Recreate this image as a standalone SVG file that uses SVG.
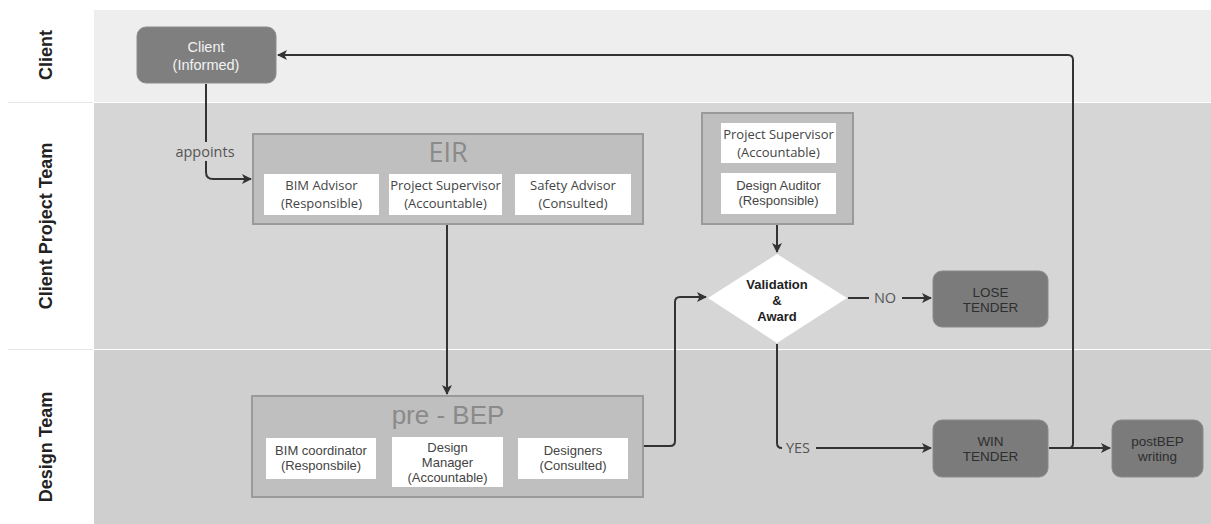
<svg xmlns="http://www.w3.org/2000/svg" width="1211" height="524" viewBox="0 0 1211 524">
<defs>
<marker id="ah" viewBox="0 0 10 10" refX="9" refY="5" markerWidth="10" markerHeight="10" markerUnits="userSpaceOnUse" orient="auto">
<path d="M0,0 L10,5 L0,10 L2.5,5 Z" fill="#333"/>
</marker>
<style>
.lanelbl{font-family:"Liberation Sans",Arial,sans-serif;font-weight:bold;font-size:18px;fill:#222;text-anchor:middle}
.cont{fill:#bfbfbf;stroke:#9a9a9a;stroke-width:2}
.card{fill:#fff}
.t{font-family:"Open Sans","Noto Sans",sans-serif;font-size:13px;fill:#444;text-anchor:middle}
.ta{font-family:"Liberation Sans",Arial,sans-serif;font-size:13px;fill:#444;text-anchor:middle}
.title{font-family:"Liberation Sans",Arial,sans-serif;font-size:26px;fill:#8a8a8a;text-anchor:middle}
.dark{fill:#7b7b7b;stroke:#8a8a8a;stroke-width:1}
.dt{font-family:"Liberation Sans",Arial,sans-serif;font-size:13.5px;fill:#2e2e2e;text-anchor:middle}
.conn{fill:none;stroke:#333;stroke-width:2}
.lbl{font-family:"Open Sans","Noto Sans",sans-serif;font-size:14.5px;fill:#555;text-anchor:middle}
</style>
</defs>
<rect width="1211" height="524" fill="#ffffff"/>
<g id="lanes">
<rect x="94" y="10" width="1117" height="92" fill="#eeeeee"/>
<rect x="94" y="103" width="1117" height="246" fill="#d6d6d6"/>
<rect x="94" y="350" width="1117" height="174" fill="#cfcfcf"/>
<line x1="8" y1="102.5" x2="93" y2="102.5" stroke="#e6e6e6" stroke-width="1"/>
<line x1="8" y1="349.5" x2="93" y2="349.5" stroke="#e6e6e6" stroke-width="1"/>
<text class="lanelbl" transform="translate(52,55) rotate(-90)">Client</text>
<text class="lanelbl" transform="translate(52,226) rotate(-90)">Client Project Team</text>
<text class="lanelbl" transform="translate(52,447) rotate(-90)">Design Team</text>
</g>
<g id="connectors">
<path class="conn" d="M206,84 V142"/>
<path class="conn" d="M206,161 V172 Q206,179 213,179 H251" marker-end="url(#ah)"/>
<text class="lbl" x="205" y="157">appoints</text>
<path class="conn" d="M447,225 V394" marker-end="url(#ah)"/>
<path class="conn" d="M644,446 H670 Q675,446 675,441 V302 Q675,297 680,297 H706" marker-end="url(#ah)"/>
<path class="conn" d="M777,225 V252" marker-end="url(#ah)"/>
<path class="conn" d="M848,298 H869"/>
<text class="lbl" x="885" y="303">NO</text>
<path class="conn" d="M902,298 H931" marker-end="url(#ah)"/>
<path class="conn" d="M777,344 V443 Q777,448 782,448"/>
<text class="lbl" x="798" y="453">YES</text>
<path class="conn" d="M816,448 H931" marker-end="url(#ah)"/>
<path class="conn" d="M1049,448 H1110" marker-end="url(#ah)"/>
<path class="conn" d="M1069,448 Q1073,448 1073,443 V60 Q1073,55 1068,55 H278" marker-end="url(#ah)"/>
</g>
<g id="client">
<rect x="137" y="27" width="139" height="56" rx="9" fill="#7f7f7f" stroke="#8c8c8c" stroke-width="1"/>
<text class="ta" x="206" y="52" style="fill:#f2f2f2;font-size:14.5px">Client</text>
<text class="ta" x="206" y="70" style="fill:#f2f2f2;font-size:14.5px">(Informed)</text>
</g>
<g id="eir">
<rect class="cont" x="253" y="134" width="390" height="90"/>
<text class="title" x="448" y="162" style="font-family:'Open Sans','Noto Sans',sans-serif;font-size:27px">EIR</text>
<rect class="card" x="264" y="174" width="115" height="41"/>
<text class="t" x="321.5" y="190">BIM Advisor</text>
<text class="t" x="321.5" y="208">(Responsible)</text>
<rect class="card" x="389" y="174" width="113" height="41"/>
<text class="t" x="445.5" y="190">Project Supervisor</text>
<text class="t" x="445.5" y="208">(Accountable)</text>
<rect class="card" x="515" y="174" width="116" height="41"/>
<text class="t" x="573" y="190">Safety Advisor</text>
<text class="t" x="573" y="208">(Consulted)</text>
</g>
<g id="prebep">
<rect class="cont" x="252" y="396" width="391" height="101"/>
<text class="title" x="448" y="424">pre - BEP</text>
<rect class="card" x="266" y="438" width="110" height="41"/>
<text class="ta" x="321" y="455">BIM coordinator</text>
<text class="ta" x="321" y="470">(Responsbile)</text>
<rect class="card" x="392" y="437" width="111" height="50"/>
<text class="ta" x="447.5" y="452">Design</text>
<text class="ta" x="447.5" y="467">Manager</text>
<text class="ta" x="447.5" y="482">(Accountable)</text>
<rect class="card" x="518" y="438" width="110" height="41"/>
<text class="ta" x="573" y="455">Designers</text>
<text class="ta" x="573" y="470">(Consulted)</text>
</g>
<g id="auditors">
<rect class="cont" x="702" y="113" width="151" height="111"/>
<rect class="card" x="721" y="123" width="115" height="40"/>
<text class="t" x="778.5" y="139">Project Supervisor</text>
<text class="t" x="778.5" y="157">(Accountable)</text>
<rect class="card" x="721" y="173" width="115" height="41"/>
<text class="ta" x="778.5" y="190">Design Auditor</text>
<text class="ta" x="778.5" y="205">(Responsible)</text>
</g>
<g id="validation">
<polygon points="777,254 847,298 777,343 708,298" fill="#ffffff"/>
<text class="dt" x="777" y="289" style="font-weight:bold;fill:#222;font-size:13px">Validation</text>
<text class="dt" x="777" y="305" style="font-weight:bold;fill:#222;font-size:13px">&amp;</text>
<text class="dt" x="777" y="321" style="font-weight:bold;fill:#222;font-size:13px">Award</text>
</g>
<g id="lose">
<rect class="dark" x="933" y="271" width="115" height="56" rx="9"/>
<text class="dt" x="990.5" y="297">LOSE</text>
<text class="dt" x="990.5" y="312">TENDER</text>
</g>
<g id="win">
<rect class="dark" x="933" y="420" width="115" height="57" rx="9"/>
<text class="dt" x="990.5" y="446">WIN</text>
<text class="dt" x="990.5" y="461">TENDER</text>
</g>
<g id="postbep">
<rect class="dark" x="1112" y="420" width="91" height="57" rx="9"/>
<text class="dt" x="1157.5" y="446">postBEP</text>
<text class="dt" x="1157.5" y="461">writing</text>
</g>
</svg>
